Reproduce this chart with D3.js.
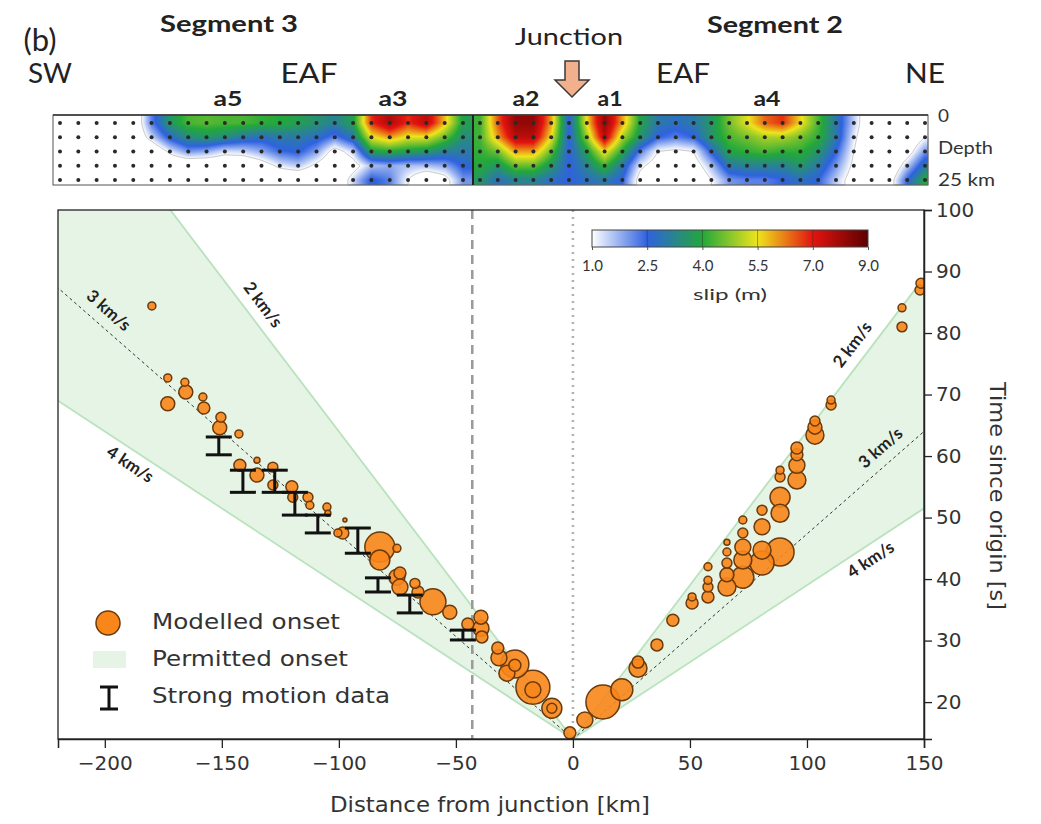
<!DOCTYPE html>
<html>
<head>
<meta charset="utf-8">
<script src="https://cdn.jsdelivr.net/npm/d3@7"></script>
<style>
  body { margin: 0; background: #fff; }
  svg { display: block; }
</style>
</head>
<body>
<div id="chart"></div>
<script>
// --- Data ---
const xTicks = [-200, -150, -100, -50, 0, 50, 100, 150];
const yTicks = [20, 30, 40, 50, 60, 70, 80, 90, 100];
const velocities = [2, 3, 4];
const originTime = 14;
const segmentBoundaryKm = -43;

// modelled onset: distance (km), time (s), slip (m)
const onsetDistance = [
  -179.9, -173.1, -173.1, -165.8, -165.4, -158.1, -157.7, -150.4, -150.9, -142.7,
  -142.3, -135.0, -135.0, -128.2, -128.2, -120.1, -119.7, -113.2, -112.4, -105.1,
  -104.7, -100.4, -97.4, -98.3, -82.5, -82.5, -75.2, -75.2, -73.9, -73.9,
  -67.5, -66.2, -59.8, -52.6, -44.9, -39.3, -39.3, -38.9, -32.1, -31.6,
  -28.2, -24.8, -24.8, -17.1, -17.1, -9.0, -9.0, -1.3,
  5.1, 12.8, 20.9, 27.8, 27.8, 35.9, 42.7, 50.9, 50.9, 57.7,
  57.7, 57.7, 57.7, 65.8, 65.8, 65.8, 65.8, 65.8, 72.6, 72.6,
  72.6, 72.6, 72.6, 80.8, 80.8, 80.8, 80.8, 88.5, 88.5, 88.5,
  88.5, 88.5, 95.7, 95.7, 95.7, 95.7, 103.4, 103.4, 103.4, 110.3,
  110.3, 140.6, 140.6, 148.3, 148.7
];
const onsetTime = [
  84.4, 72.7, 68.5, 72.0, 70.4, 69.6, 67.8, 66.3, 64.6, 63.6,
  58.5, 59.3, 56.9, 58.2, 55.3, 55.0, 53.3, 53.3, 52.0, 51.7,
  50.7, 47.5, 49.6, 47.5, 45.2, 43.1, 45.0, 40.3, 41.0, 38.7,
  39.3, 37.9, 36.3, 34.6, 32.7, 33.8, 32.0, 30.6, 28.8, 27.2,
  24.7, 26.2, 26.0, 22.4, 22.0, 19.0, 19.0, 15.0,
  17.1, 20.0, 22.0, 25.5, 26.5, 29.3, 33.3, 36.1, 37.1, 37.1,
  38.7, 39.8, 42.0, 38.7, 40.7, 42.6, 44.4, 46.0, 40.3, 43.1,
  45.2, 47.5, 49.6, 42.6, 44.7, 48.5, 51.2, 44.4, 50.7, 53.3,
  56.6, 57.7, 56.1, 58.5, 60.2, 61.3, 63.4, 64.7, 65.7, 68.3,
  69.1, 81.0, 84.1, 87.0, 88.1
];
const onsetSlip = [
  0.44, 0.44, 1.36, 0.44, 1.36, 0.44, 1.0, 0.69, 1.36, 0.44,
  1.0, 0.25, 1.36, 0.69, 0.69, 1.0, 0.69, 0.69, 0.44, 0.44,
  0.25, 0.44, 0.11, 1.0, 6.25, 2.78, 0.44, 1.78, 1.0, 1.78,
  0.69, 1.0, 4.69, 1.36, 1.0, 1.36, 1.78, 1.0, 1.0, 1.78,
  1.78, 5.44, 1.0, 8.0, 1.78, 2.78, 0.69, 1.0,
  1.78, 8.0, 3.36, 2.25, 1.0, 1.0, 1.0, 1.0, 0.44, 1.0,
  0.69, 0.44, 0.44, 2.25, 1.36, 0.69, 0.44, 0.25, 3.36, 2.25,
  1.78, 0.69, 0.44, 4.0, 2.25, 1.78, 0.69, 5.44, 2.25, 2.78,
  0.69, 0.44, 2.25, 1.78, 1.0, 1.0, 2.25, 1.36, 0.69, 0.69,
  0.44, 0.69, 0.44, 0.69, 0.69
];

// strong motion data: distance (km), lower / upper time (s)
const motionDistance = [-151.3, -141.0, -127.4, -118.8, -109.0, -91.9, -83.3, -69.7, -47.0];
const motionLow = [60.2, 54.1, 54.1, 50.4, 47.5, 44.2, 37.9, 34.5, 30.1];
const motionHigh = [63.1, 57.7, 57.7, 54.1, 50.4, 48.3, 40.2, 37.4, 31.7];

// slip model (m), 5 depth rows x along-strike columns
const slipLevels = [1.0, 2.5, 4.0, 5.5, 7.0, 9.0];
const slipSegment3 = [
  [0, 0, 0, 0, 0, 2.2, 3.6, 4.3, 4.4, 4.3, 4.3, 4.1, 4.0, 3.8, 3.5, 3.2, 3.8, 6.8, 7.8, 6.8, 7.6, 5.8, 3.8],
  [0, 0, 0, 0, 0, 1.4, 2.7, 3.4, 3.6, 3.4, 3.0, 2.8, 3.0, 3.0, 2.8, 2.2, 3.0, 5.4, 6.0, 5.4, 5.4, 4.5, 3.4],
  [0, 0, 0, 0, 0, 0, 1.2, 2.0, 1.8, 1.3, 1.4, 1.8, 2.4, 2.6, 1.9, 0.6, 1.4, 3.8, 4.0, 3.8, 3.6, 3.2, 3.0],
  [0, 0, 0, 0, 0, 0, 0, 0, 0, 0, 0, 0.5, 1.2, 1.5, 0.8, 0, 0.6, 1.6, 1.8, 1.6, 1.6, 1.8, 2.6],
  [0, 0, 0, 0, 0, 0, 0, 0, 0, 0, 0, 0, 0, 0, 0, 0, 1.4, 2.6, 2.2, 1.0, 0, 0.6, 2.0]
];
const slipSegment2 = [
  [4.2, 6.5, 8.2, 8.2, 6.0, 2.5, 5.5, 8.2, 6.0, 3.9, 3.0, 2.8, 3.0, 3.6, 4.6, 5.4, 6.4, 6.8, 5.6, 4.3, 3.0, 1.5, 0, 0, 0, 0.5],
  [4.2, 6.0, 7.6, 7.6, 5.5, 2.5, 4.8, 7.6, 5.0, 3.6, 2.5, 2.2, 2.5, 3.6, 4.3, 4.6, 5.0, 5.0, 4.6, 4.1, 3.0, 1.2, 0, 0, 0, 1.0],
  [4.1, 4.6, 6.0, 6.0, 4.5, 2.5, 3.8, 5.6, 4.0, 2.2, 1.0, 0.8, 1.0, 2.6, 3.9, 4.1, 4.3, 4.1, 4.1, 3.6, 2.5, 1.0, 0, 0, 0.5, 2.0],
  [4.0, 3.6, 4.5, 4.5, 3.6, 2.5, 3.2, 4.2, 3.0, 1.2, 0.5, 0.5, 0.5, 1.6, 3.0, 3.2, 3.2, 3.2, 3.6, 3.0, 2.0, 0.8, 0, 0, 1.5, 3.0],
  [3.6, 2.8, 3.2, 3.2, 2.8, 2.5, 2.8, 3.0, 2.5, 0.6, 0, 0, 0, 1.0, 2.0, 2.2, 2.2, 2.5, 2.8, 2.5, 1.5, 0.5, 0, 0.5, 2.5, 4.0]
];

// label positions along the velocity lines (km)
const speedLabelDistance = [
  { v: 2, d: -138, side: -1 }, { v: 3, d: -203, side: -1 }, { v: 4, d: -186, side: 1 },
  { v: 2, d: 125, side: -1 }, { v: 3, d: 136, side: -1 }, { v: 4, d: 124, side: 1 }
];

// --- Setup ---
const width = 1041;
const height = 824;
const svg = d3.select("#chart").append("svg")
  .attr("width", width).attr("height", height)
  .style("font-family", "DejaVu Sans, sans-serif");

const x = d3.scaleLinear().domain([-220, 150]).range([58, 924]);
const y = d3.scaleLinear().domain([14, 100]).range([739, 210]);
const rScale = d3.scaleSqrt().domain([0, 9]).range([0, 18]);
const slipColor = d3.scaleLinear().domain(slipLevels)
  .range(["#ffffff", "#2f62e0", "#22a83a", "#eee41c", "#e3140f", "#5c0000"])
  .clamp(true);

const onsetTimeAt = (d, v) => originTime + Math.abs(d) / v;

// stretch a text to a measured width
const fit = (sel, len) => sel.attr("textLength", len).attr("lengthAdjust", "spacingAndGlyphs");

// --- Main plot ---
svg.append("clipPath").attr("id", "plot-clip")
  .append("rect")
  .attr("x", x(-220)).attr("y", y(100))
  .attr("width", x(150) - x(-220)).attr("height", y(14) - y(100));

const plot = svg.append("g").attr("clip-path", "url(#plot-clip)");

// permitted onset bands (between 2 and 4 km/s)
[-220, 150].forEach((end) => {
  const pts = [
    [0, originTime],
    [end, onsetTimeAt(end, 2)],
    [end, onsetTimeAt(end, 4)]
  ];
  plot.append("path")
    .attr("d", d3.line().x((p) => x(p[0])).y((p) => y(p[1]))(pts) + "Z")
    .attr("fill", "#e5f4e5");
  [2, 4].forEach((v) => {
    plot.append("line")
      .attr("x1", x(0)).attr("y1", y(originTime))
      .attr("x2", x(end)).attr("y2", y(onsetTimeAt(end, v)))
      .attr("stroke", "#b9e2bd").attr("stroke-width", 1.8);
  });
  plot.append("line")
    .attr("x1", x(0)).attr("y1", y(originTime))
    .attr("x2", x(end)).attr("y2", y(onsetTimeAt(end, 3)))
    .attr("stroke", "#333").attr("stroke-width", 1)
    .attr("stroke-dasharray", "3,3");
});

// segment boundary and junction lines
plot.append("line")
  .attr("x1", x(segmentBoundaryKm)).attr("x2", x(segmentBoundaryKm))
  .attr("y1", y(100)).attr("y2", y(14))
  .attr("stroke", "#9a9a9a").attr("stroke-width", 2.5)
  .attr("stroke-dasharray", "9,6");
plot.append("line")
  .attr("x1", x(0)).attr("x2", x(0))
  .attr("y1", y(100)).attr("y2", y(14))
  .attr("stroke", "#b0b0b0").attr("stroke-width", 2.5)
  .attr("stroke-dasharray", "2,5");

// speed labels
speedLabelDistance.forEach((s) => {
  const t = onsetTimeAt(s.d, s.v);
  const slope = (y(originTime) - y(originTime + 100 / s.v)) / (x(100) - x(0));
  const angle = Math.atan(slope) * 180 / Math.PI * (s.d < 0 ? 1 : -1);
  svg.append("text")
    .attr("transform", `translate(${x(s.d)},${y(t)}) rotate(${angle})`)
    .attr("y", s.side * 15)
    .attr("text-anchor", "middle")
    .attr("dominant-baseline", "middle")
    .style("font-family", "Lato, sans-serif")
    .style("font-weight", "bold")
    .style("font-size", "17px")
    .attr("fill", "#222")
    .text(`${s.v} km/s`);
});

// onset circles, biggest first
const onsets = onsetDistance.map((d, i) => ({ d, t: onsetTime[i], s: onsetSlip[i] }))
  .sort((a, b) => b.s - a.s);
plot.selectAll("circle.onset").data(onsets).join("circle")
  .attr("class", "onset")
  .attr("cx", (d) => x(d.d)).attr("cy", (d) => y(d.t))
  .attr("r", (d) => rScale(d.s))
  .attr("fill", "#f8861a").attr("fill-opacity", 0.9)
  .attr("stroke", "#6b3a0c").attr("stroke-width", 1.5);

// strong motion error bars
const cap = 13;
const bars = plot.selectAll("g.motion").data(motionDistance).join("g").attr("class", "motion");
bars.append("line")
  .attr("x1", (d) => x(d)).attr("x2", (d) => x(d))
  .attr("y1", (d, i) => y(motionLow[i])).attr("y2", (d, i) => y(motionHigh[i]));
bars.append("line")
  .attr("x1", (d) => x(d) - cap).attr("x2", (d) => x(d) + cap)
  .attr("y1", (d, i) => y(motionLow[i])).attr("y2", (d, i) => y(motionLow[i]));
bars.append("line")
  .attr("x1", (d) => x(d) - cap).attr("x2", (d) => x(d) + cap)
  .attr("y1", (d, i) => y(motionHigh[i])).attr("y2", (d, i) => y(motionHigh[i]));
bars.selectAll("line").attr("stroke", "#111").attr("stroke-width", 3);

// frame
svg.append("rect")
  .attr("x", x(-220)).attr("y", y(100))
  .attr("width", x(150) - x(-220)).attr("height", y(14) - y(100))
  .attr("fill", "none").attr("stroke", "#222").attr("stroke-width", 1.3);

// axes
const xAxis = svg.append("g")
  .attr("transform", `translate(0,${y(14)})`)
  .call(d3.axisBottom(x).tickValues(xTicks).tickSize(9).tickPadding(8));
const yAxis = svg.append("g")
  .attr("transform", `translate(${x(150)},0)`)
  .call(d3.axisRight(y).tickValues(yTicks).tickSize(8).tickPadding(4));
[xAxis, yAxis].forEach((a) => {
  a.select(".domain").attr("stroke", "#222").attr("stroke-width", 1.5);
  a.selectAll(".tick line").attr("stroke", "#222").attr("stroke-width", 1.3);
  a.selectAll(".tick text").attr("fill", "#333")
    .style("font-family", "DejaVu Sans, sans-serif").style("font-size", "20px");
});

fit(svg.append("text")
  .attr("x", 490).attr("y", 812)
  .attr("text-anchor", "middle")
  .attr("fill", "#333").style("font-size", "22px")
  .text("Distance from junction [km]"), 320);
fit(svg.append("text")
  .attr("transform", "translate(990,496) rotate(90)")
  .attr("text-anchor", "middle")
  .attr("fill", "#333").style("font-size", "22px")
  .text("Time since origin [s]"), 228);

// legend
const legend = svg.append("g").attr("fill", "#333").style("font-size", "22px");
legend.append("circle").attr("cx", 108).attr("cy", 623).attr("r", 12)
  .attr("fill", "#f8861a").attr("stroke", "#6b3a0c").attr("stroke-width", 1.5);
legend.append("rect").attr("x", 93).attr("y", 651).attr("width", 33).attr("height", 17)
  .attr("fill", "#e5f4e5");
legend.append("path").attr("d", "M100,687H118M109,687V709M100,709H118")
  .attr("stroke", "#111").attr("stroke-width", 3).attr("fill", "none");
const legendWidths = [188, 196, 238];
["Modelled onset", "Permitted onset", "Strong motion data"].forEach((t, i) => {
  fit(legend.append("text").attr("x", 152).attr("y", 623 + i * 37)
    .attr("dominant-baseline", "middle").text(t), legendWidths[i]);
});

// --- Colorbar ---
const cb = d3.scaleLinear().domain(slipLevels).range(d3.range(6).map((i) => 592 + i * 55.2));
const grad = svg.append("defs").append("linearGradient").attr("id", "slip-grad");
slipLevels.forEach((v, i) => {
  grad.append("stop").attr("offset", `${i * 20}%`).attr("stop-color", slipColor(v));
});
svg.append("rect").attr("x", cb(1)).attr("y", 230).attr("width", cb(9) - cb(1)).attr("height", 17)
  .attr("fill", "url(#slip-grad)").attr("stroke", "#444").attr("stroke-width", 1);
const cbAxis = svg.append("g").attr("transform", "translate(0,247)")
  .call(d3.axisBottom(cb).tickValues(slipLevels).tickSize(3).tickPadding(10).tickFormat(d3.format(".1f")));
cbAxis.select(".domain").remove();
cbAxis.selectAll(".tick line").attr("stroke", "#555");
cbAxis.selectAll(".tick text").attr("fill", "#333")
  .style("font-family", "Lato, sans-serif").style("font-size", "15px");
svg.selectAll("line.cbsep").data(slipLevels.slice(1, -1)).join("line").attr("class", "cbsep")
  .attr("x1", (d) => cb(d)).attr("x2", (d) => cb(d)).attr("y1", 230).attr("y2", 247)
  .attr("stroke", "#333").attr("stroke-width", 0.8).attr("stroke-opacity", 0.6);
fit(svg.append("text").attr("x", 730).attr("y", 300).attr("text-anchor", "middle")
  .attr("fill", "#333").style("font-family", "Lato, sans-serif").style("font-size", "16px")
  .text("slip (m)"), 74);

// --- Slip panel ---
const panel = { x0: 53, x1: 928, y0: 115, y1: 185, split: 473 };
const rowY = d3.scaleLinear().domain([0, 4]).range([123, 180]);
const segments = [
  { grid: slipSegment3, col: d3.scaleLinear().domain([0, 22]).range([60, 463]), x0: panel.x0, x1: panel.split },
  { grid: slipSegment2, col: d3.scaleLinear().domain([0, 25]).range([480, 925]), x0: panel.split, x1: panel.x1 }
];

function sampleGrid(grid, gi, gj) {
  const nr = grid.length, nc = grid[0].length;
  gi = Math.max(0, Math.min(nc - 1, gi));
  gj = Math.max(0, Math.min(nr - 1, gj));
  const i0 = Math.floor(gi), j0 = Math.floor(gj);
  const i1 = Math.min(nc - 1, i0 + 1), j1 = Math.min(nr - 1, j0 + 1);
  const fi = gi - i0, fj = gj - j0;
  const top = grid[j0][i0] * (1 - fi) + grid[j0][i1] * fi;
  const bot = grid[j1][i0] * (1 - fi) + grid[j1][i1] * fi;
  return top * (1 - fj) + bot * fj;
}

segments.forEach((seg) => {
  const w = seg.x1 - seg.x0, h = panel.y1 - panel.y0;
  const canvas = document.createElement("canvas");
  canvas.width = w; canvas.height = h;
  const ctx = canvas.getContext("2d");
  const img = ctx.createImageData(w, h);
  const values = new Float64Array(w * h);
  for (let py = 0; py < h; py++) {
    for (let px = 0; px < w; px++) {
      const v = sampleGrid(seg.grid, seg.col.invert(seg.x0 + px + 0.5), rowY.invert(panel.y0 + py + 0.5));
      values[py * w + px] = v;
      const c = d3.rgb(slipColor(v));
      const k = (py * w + px) * 4;
      img.data[k] = c.r; img.data[k + 1] = c.g; img.data[k + 2] = c.b; img.data[k + 3] = 255;
    }
  }
  ctx.putImageData(img, 0, 0);
  svg.append("image")
    .attr("x", seg.x0).attr("y", panel.y0).attr("width", w).attr("height", h)
    .attr("preserveAspectRatio", "none")
    .attr("href", canvas.toDataURL());

  // faint outline of the slipping area
  const contour = d3.contours().size([w, h]).thresholds([1.0])(Array.from(values));
  svg.append("path")
    .attr("d", d3.geoPath(d3.geoIdentity().translate([seg.x0, panel.y0]))(contour[0]))
    .attr("fill", "none").attr("stroke", "#9a9a9a").attr("stroke-width", 0.6);

  // grid dots
  const dots = [];
  seg.grid.forEach((row, j) => row.forEach((v, i) => dots.push([seg.col(i), rowY(j)])));
  svg.append("g").selectAll("circle").data(dots).join("circle")
    .attr("cx", (d) => d[0]).attr("cy", (d) => d[1]).attr("r", 2).attr("fill", "#2a2a2a");
});

svg.append("rect")
  .attr("x", panel.x0).attr("y", panel.y0)
  .attr("width", panel.x1 - panel.x0).attr("height", panel.y1 - panel.y0)
  .attr("fill", "none").attr("stroke", "#555").attr("stroke-width", 1);
svg.append("line")
  .attr("x1", panel.x0).attr("x2", panel.x1).attr("y1", panel.y0).attr("y2", panel.y0)
  .attr("stroke", "#333").attr("stroke-width", 1.5);
svg.append("line")
  .attr("x1", panel.split).attr("x2", panel.split).attr("y1", panel.y0).attr("y2", panel.y1)
  .attr("stroke", "#222").attr("stroke-width", 2);

// panel labels (alphabetic baseline)
const calibri = "Lato, sans-serif";
const topLabels = [
  { t: "Segment 3", x: 229, y: 32, s: 23, w: "bold", len: 138 },
  { t: "Junction", x: 569, y: 45, s: 24, w: "normal", len: 108 },
  { t: "Segment 2", x: 775, y: 33, s: 23, w: "bold", len: 136 },
  { t: "SW", x: 50, y: 83, s: 26, w: "normal", len: 44 },
  { t: "a5", x: 228, y: 106, s: 20, w: "bold", len: 29 },
  { t: "EAF", x: 309, y: 83, s: 26, w: "normal", len: 57 },
  { t: "a3", x: 393, y: 106, s: 20, w: "bold", len: 29 },
  { t: "a2", x: 526, y: 106, s: 20, w: "bold", len: 27 },
  { t: "a1", x: 610, y: 106, s: 20, w: "bold", len: 25 },
  { t: "EAF", x: 683, y: 83, s: 26, w: "normal", len: 54 },
  { t: "a4", x: 767, y: 106, s: 20, w: "bold", len: 27 },
  { t: "NE", x: 925, y: 83, s: 26, w: "normal", len: 40 }
];
svg.selectAll("text.top").data(topLabels).join("text").attr("class", "top")
  .attr("x", (d) => d.x).attr("y", (d) => d.y)
  .attr("text-anchor", "middle")
  .attr("textLength", (d) => d.len).attr("lengthAdjust", "spacingAndGlyphs")
  .style("font-family", calibri).style("font-size", (d) => d.s + "px")
  .style("font-weight", (d) => d.w).attr("fill", "#222")
  .text((d) => d.t);
svg.append("text").attr("x", 40).attr("y", 51).attr("text-anchor", "middle")
  .style("font-family", calibri).style("font-size", "31px").attr("fill", "#222")
  .text("(b)");
[["0", 118, 11], ["Depth", 150, 55], ["25 km", 182, 57]].forEach(([t, yy, len]) => {
  fit(svg.append("text").attr("x", 938).attr("y", yy).attr("dominant-baseline", "middle")
    .style("font-family", calibri).style("font-size", "17px").attr("fill", "#333").text(t), len);
});

// junction arrow
svg.append("path")
  .attr("d", "M565,61H579V80H589L572,97L555,80H565Z")
  .attr("fill", "#f2b08c").attr("stroke", "#3a3a3a").attr("stroke-width", 1.5);
</script>
</body>
</html>
